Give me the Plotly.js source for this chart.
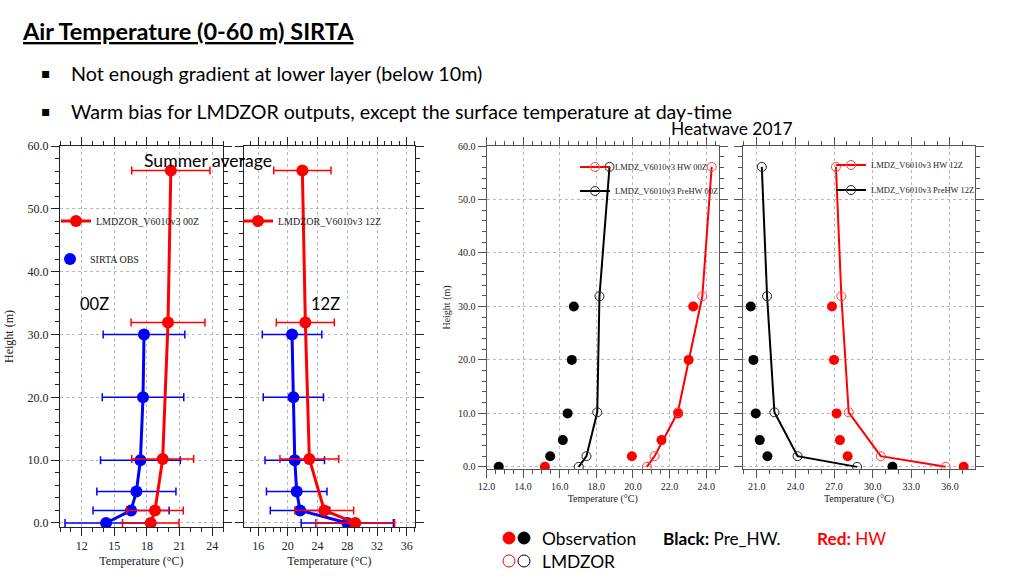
<!DOCTYPE html>
<html>
<head>
<meta charset="utf-8">
<script src="https://cdn.plot.ly/plotly-3.0.1.min.js"></script>
<style>html,body{margin:0;padding:0;background:#fff;}#chart{width:1024px;height:576px;}</style>
</head>
<body>
<div id="chart"></div>
<script>
// ---------- data ----------
const heightObs = [0, 2, 5, 10, 20, 30];
const heightModel = [0, 2, 10.2, 31.9, 56.1];

// Summer average 00Z
const sum00Model = [18.35, 18.74, 19.45, 19.94, 20.2];
const sum00ModelErr = [2.6, 2.6, 2.85, 3.4, 3.6];
const sum00Obs = [14.24, 16.54, 17.03, 17.4, 17.64, 17.73];
const sum00ObsErr = [3.78, 3.5, 3.64, 3.67, 3.75, 3.76];

// Summer average 12Z
const sum12Model = [29.06, 24.9, 22.89, 22.35, 21.95];
const sum12ModelErr = [5.3, 3.95, 3.95, 3.9, 3.85];
const sum12Obs = [27.99, 21.64, 21.19, 20.93, 20.74, 20.56];
const sum12ObsErr = [6.2, 4.0, 4.07, 4.0, 4.05, 4.0];

// Heatwave 2017, 00Z
const hw00ObsPre = [12.67, 15.48, 16.17, 16.43, 16.66, 16.77];
const hw00ObsHW = [15.19, 19.94, 21.56, 22.47, 23.04, 23.29];
const hw00ModelPre = [17.04, 17.46, 18.05, 18.17, 18.72];
const hw00ModelHW = [20.76, 21.18, 22.45, 23.79, 24.3];

// Heatwave 2017, 12Z
const hw12ObsPre = [31.54, 21.83, 21.23, 20.92, 20.74, 20.53];
const hw12ObsHW = [37.07, 28.06, 27.46, 27.2, 27.0, 26.84];
const hw12ModelPre = [28.79, 24.17, 22.37, 21.8, 21.39];
const hw12ModelHW = [35.67, 30.63, 28.14, 27.57, 27.15];

const names = {
  s00: 'LMDZOR_V6010v3 00Z', s12: 'LMDZOR_V6010v3 12Z', obs: 'SIRTA OBS',
  hw00: 'LMDZ_V6010v3 HW 00Z', pre00: 'LMDZ_V6010v3 PreHW 00Z',
  hw12: 'LMDZ_V6010v3 HW 12Z', pre12: 'LMDZ_V6010v3 PreHW 12Z'
};

// ---------- helpers ----------
const W = 1024, H = 576;
const fx = p => p / W;
const fy = p => 1 - p / H;
const RED = '#ff0000', BLUE = '#0000ff', BLACK = '#000000';
const SERIF = 'Liberation Serif, Times New Roman, serif';
const SANS = 'Lato, Open Sans, sans-serif';

function errBar(arr, color) {
  return {type: 'data', array: arr, symmetric: true, color: color, thickness: 1.5, width: 4};
}

const traces = [
  // panel 1
  {x: sum00Obs, y: heightObs, xaxis: 'x', yaxis: 'y', mode: 'lines', line: {color: BLUE, width: 3}, showlegend: false, hoverinfo: 'skip'},
  {x: sum00Obs, y: heightObs, xaxis: 'x', yaxis: 'y', mode: 'markers', name: names.obs, legend: 'legend2',
   marker: {color: BLUE, size: 12}, error_x: errBar(sum00ObsErr, BLUE)},
  {x: sum00Model, y: heightModel, xaxis: 'x', yaxis: 'y', mode: 'lines+markers', name: names.s00, legend: 'legend',
   line: {color: RED, width: 3}, marker: {color: RED, size: 12}, error_x: errBar(sum00ModelErr, RED)},
  // panel 2
  {x: sum12Obs, y: heightObs, xaxis: 'x2', yaxis: 'y2', mode: 'lines', line: {color: BLUE, width: 3}, showlegend: false, hoverinfo: 'skip'},
  {x: sum12Obs, y: heightObs, xaxis: 'x2', yaxis: 'y2', mode: 'markers', name: names.obs, showlegend: false,
   marker: {color: BLUE, size: 12}, error_x: errBar(sum12ObsErr, BLUE)},
  {x: sum12Model, y: heightModel, xaxis: 'x2', yaxis: 'y2', mode: 'lines+markers', name: names.s12, legend: 'legend3',
   line: {color: RED, width: 3}, marker: {color: RED, size: 12}, error_x: errBar(sum12ModelErr, RED)},
  // panel 3
  {x: hw00ObsPre, y: heightObs, xaxis: 'x3', yaxis: 'y3', mode: 'markers', showlegend: false, name: 'Obs PreHW 00Z',
   marker: {color: BLACK, size: 10}},
  {x: hw00ObsHW, y: heightObs, xaxis: 'x3', yaxis: 'y3', mode: 'markers', showlegend: false, name: 'Obs HW 00Z',
   marker: {color: RED, size: 10}},
  {x: hw00ModelHW, y: heightModel, xaxis: 'x3', yaxis: 'y3', mode: 'lines+markers', name: names.hw00, legend: 'legend4',
   line: {color: RED, width: 2}, marker: {symbol: 'circle-open', color: '#ff4040', size: 9, line: {width: 1}}},
  {x: hw00ModelPre, y: heightModel, xaxis: 'x3', yaxis: 'y3', mode: 'lines+markers', name: names.pre00, legend: 'legend5',
   line: {color: BLACK, width: 2}, marker: {symbol: 'circle-open', color: '#222', size: 9, line: {width: 1}}},
  // panel 4
  {x: hw12ObsPre, y: heightObs, xaxis: 'x4', yaxis: 'y4', mode: 'markers', showlegend: false, name: 'Obs PreHW 12Z',
   marker: {color: BLACK, size: 10}},
  {x: hw12ObsHW, y: heightObs, xaxis: 'x4', yaxis: 'y4', mode: 'markers', showlegend: false, name: 'Obs HW 12Z',
   marker: {color: RED, size: 10}},
  {x: hw12ModelHW, y: heightModel, xaxis: 'x4', yaxis: 'y4', mode: 'lines+markers', name: names.hw12, legend: 'legend6',
   line: {color: RED, width: 2}, marker: {symbol: 'circle-open', color: '#ff4040', size: 9, line: {width: 1}}},
  {x: hw12ModelPre, y: heightModel, xaxis: 'x4', yaxis: 'y4', mode: 'lines+markers', name: names.pre12, legend: 'legend7',
   line: {color: BLACK, width: 2}, marker: {symbol: 'circle-open', color: '#222', size: 9, line: {width: 1}}}
];

function axis(o) {
  const fontSize = o.fs || 12;
  const a = {
    domain: o.domain, range: o.range, anchor: o.anchor,
    tick0: o.tick0, dtick: o.dtick, tickformat: o.fmt || '',
    showline: true, linecolor: o.lc || '#222', linewidth: 1, mirror: 'allticks',
    ticks: 'outside', ticklen: 8, tickwidth: 1, tickcolor: o.lc || '#222',
    showgrid: true, gridcolor: '#b8b8b8', griddash: 'dot', gridwidth: 1, zeroline: false,
    minor: {dtick: o.minor, tick0: o.tick0, ticks: 'outside', ticklen: 4, tickwidth: 1, tickcolor: o.lc || '#222', showgrid: false},
    showticklabels: o.labels !== false,
    tickfont: {family: SERIF, size: fontSize, color: '#222'},
    fixedrange: true
  };
  if (o.title) a.title = {text: o.title, font: {family: SERIF, size: o.tfs || fontSize, color: '#222'}, standoff: o.standoff || 4};
  return a;
}

function legendAt(x, y, size) {
  return {x: fx(x), y: fy(y), xanchor: 'left', yanchor: 'middle', bgcolor: 'rgba(0,0,0,0)',
          borderwidth: 0, font: {family: SERIF, size: size, color: '#222'}, itemwidth: 30, tracegroupgap: 0};
}

const yTopA = 146, yBotA = 527, yTopB = 146, yBotB = 469;

const layout = {
  width: W, height: H,
  margin: {l: 0, r: 0, t: 0, b: 0},
  paper_bgcolor: '#ffffff', plot_bgcolor: '#ffffff',
  showlegend: true,
  xaxis: axis({domain: [fx(60), fx(223)], range: [10, 25], anchor: 'y', tick0: 12, dtick: 3, minor: 1, title: 'Temperature (°C)'}),
  yaxis: axis({domain: [fy(yBotA), fy(yTopA)], range: [-0.64, 60], anchor: 'x', tick0: 0, dtick: 10, minor: 2, fmt: '.1f', title: 'Height (m)', standoff: 11}),
  xaxis2: axis({domain: [fx(244), fx(415)], range: [14.1, 37.1], anchor: 'y2', tick0: 16, dtick: 4, minor: 1, title: 'Temperature (°C)'}),
  yaxis2: axis({domain: [fy(yBotA), fy(yTopA)], range: [-0.64, 60], anchor: 'x2', tick0: 0, dtick: 10, minor: 2, labels: false}),
  xaxis3: axis({domain: [fx(486.5), fx(719)], range: [12, 24.7], anchor: 'y3', tick0: 12, dtick: 2, minor: 0.5, fmt: '.1f', fs: 10, lc: '#555', title: 'Temperature (°C)', standoff: 3}),
  yaxis3: axis({domain: [fy(yBotB), fy(yTopB)], range: [-0.4, 60], anchor: 'x3', tick0: 0, dtick: 10, minor: 2, fmt: '.1f', fs: 10, lc: '#555', title: 'Height (m)', standoff: 5}),
  xaxis4: axis({domain: [fx(743), fx(975)], range: [19.93, 37.95], anchor: 'y4', tick0: 21, dtick: 3, minor: 1, fmt: '.1f', fs: 10, lc: '#555', title: 'Temperature (°C)', standoff: 3}),
  yaxis4: axis({domain: [fy(yBotB), fy(yTopB)], range: [-0.4, 60], anchor: 'x4', tick0: 0, dtick: 10, minor: 2, labels: false, lc: '#555'}),
  legend: legendAt(56, 221, 10),
  legend2: legendAt(50, 259, 10),
  legend3: legendAt(238, 221, 10),
  legend4: legendAt(575, 167, 8.5),
  legend5: legendAt(575, 191, 8.5),
  legend6: legendAt(831, 165, 8.5),
  legend7: legendAt(831, 190, 8.5),
  annotations: [
    {text: '<b>Air Temperature (0-60 m) SIRTA</b>', x: fx(20), y: fy(31), xref: 'paper', yref: 'paper', xanchor: 'left', yanchor: 'middle', showarrow: false,
     font: {family: SANS, size: 23.5, color: '#000', lineposition: 'under'}},
    {text: '▪', x: fx(46), y: fy(73), xref: 'paper', yref: 'paper', xanchor: 'center', yanchor: 'middle', showarrow: false, font: {family: 'DejaVu Sans', size: 14, color: '#000'}},
    {text: 'Not enough gradient at lower layer (below 10m)', x: fx(69), y: fy(73), xref: 'paper', yref: 'paper', xanchor: 'left', yanchor: 'middle', showarrow: false,
     font: {family: SANS, size: 19.7, color: '#000'}},
    {text: '▪', x: fx(46), y: fy(111), xref: 'paper', yref: 'paper', xanchor: 'center', yanchor: 'middle', showarrow: false, font: {family: 'DejaVu Sans', size: 14, color: '#000'}},
    {text: 'Warm bias for LMDZOR outputs, except the surface temperature at day-time', x: fx(69), y: fy(111), xref: 'paper', yref: 'paper', xanchor: 'left', yanchor: 'middle', showarrow: false,
     font: {family: SANS, size: 19.6, color: '#000'}},
    {text: 'Heatwave 2017', x: fx(732), y: fy(128), xref: 'paper', yref: 'paper', xanchor: 'center', yanchor: 'middle', showarrow: false,
     font: {family: SANS, size: 17.4, color: '#000'}},
    {text: 'Summer average', x: fx(208), y: fy(160), xref: 'paper', yref: 'paper', xanchor: 'center', yanchor: 'middle', showarrow: false,
     font: {family: SANS, size: 17.6, color: '#000'}},
    {text: '00Z', x: fx(94), y: fy(304), xref: 'paper', yref: 'paper', xanchor: 'center', yanchor: 'middle', showarrow: false,
     font: {family: SANS, size: 16.5, color: '#000'}},
    {text: '12Z', x: fx(325), y: fy(304), xref: 'paper', yref: 'paper', xanchor: 'center', yanchor: 'middle', showarrow: false,
     font: {family: SANS, size: 16.5, color: '#000'}},
    {text: 'Observation', x: fx(540), y: fy(538), xref: 'paper', yref: 'paper', xanchor: 'left', yanchor: 'middle', showarrow: false,
     font: {family: SANS, size: 17.4, color: '#000'}},
    {text: 'LMDZOR', x: fx(540), y: fy(561), xref: 'paper', yref: 'paper', xanchor: 'left', yanchor: 'middle', showarrow: false,
     font: {family: SANS, size: 17.4, color: '#000'}},
    {text: '<b>Black:</b> Pre_HW.', x: fx(661), y: fy(538), xref: 'paper', yref: 'paper', xanchor: 'left', yanchor: 'middle', showarrow: false,
     font: {family: SANS, size: 17.2, color: '#000'}},
    {text: '<b>Red:</b> HW', x: fx(815), y: fy(538), xref: 'paper', yref: 'paper', xanchor: 'left', yanchor: 'middle', showarrow: false,
     font: {family: SANS, size: 17.2, color: '#ff0000'}}
  ],
  shapes: [
    {type: 'circle', xref: 'paper', yref: 'paper', x0: fx(503), x1: fx(515), y0: fy(544), y1: fy(532), fillcolor: RED, line: {color: RED, width: 1}},
    {type: 'circle', xref: 'paper', yref: 'paper', x0: fx(518), x1: fx(530), y0: fy(544), y1: fy(532), fillcolor: BLACK, line: {color: BLACK, width: 1}},
    {type: 'circle', xref: 'paper', yref: 'paper', x0: fx(503), x1: fx(515), y0: fy(567), y1: fy(555), fillcolor: 'rgba(0,0,0,0)', line: {color: RED, width: 1}},
    {type: 'circle', xref: 'paper', yref: 'paper', x0: fx(518), x1: fx(530), y0: fy(567), y1: fy(555), fillcolor: 'rgba(0,0,0,0)', line: {color: BLACK, width: 1}}
  ]
};

Plotly.newPlot('chart', traces, layout, {displayModeBar: false, staticPlot: true});
</script>
</body>
</html>
